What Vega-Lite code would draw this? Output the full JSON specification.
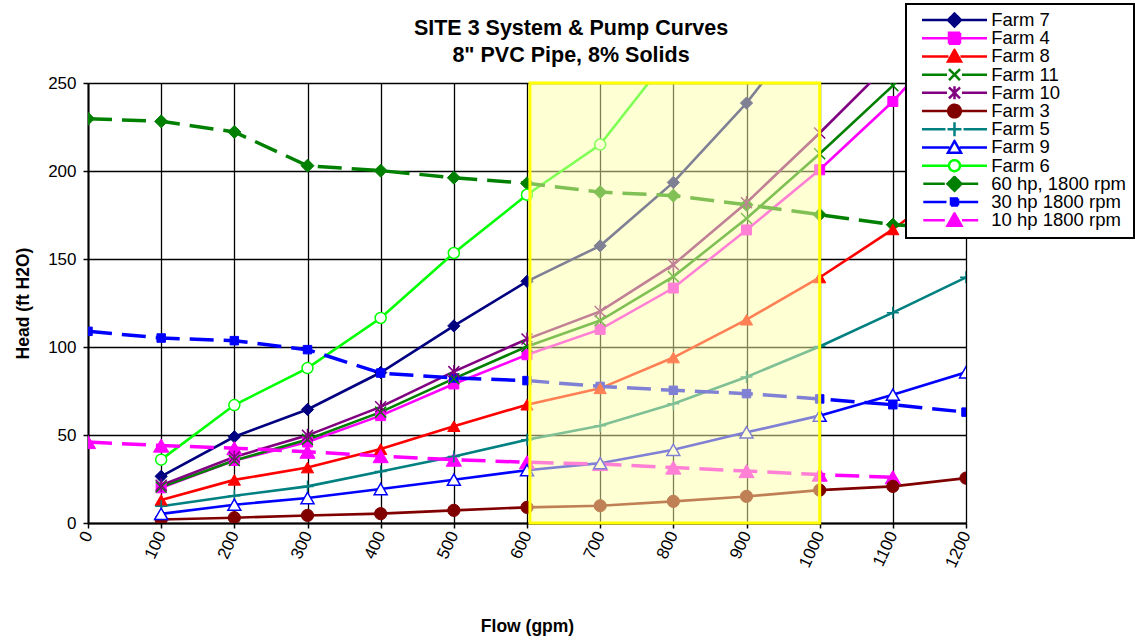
{
  "$schema": "https://vega.github.io/schema/vega-lite/v6.json",
  "width": 878,
  "height": 440,
  "autosize": {"type": "none"},
  "padding": {"left": 88, "top": 83, "right": 169, "bottom": 117},
  "background": "white",
  "title": {
    "text": ["SITE 3 System & Pump Curves", "8\" PVC Pipe, 8% Solids"],
    "anchor": "middle",
    "frame": "group",
    "dx": 44,
    "dy": 63,
    "offset": 0,
    "font": "Liberation Sans",
    "fontSize": 21.5,
    "fontWeight": "bold",
    "color": "#000000",
    "lineHeight": 27
  },
  "config": {
    "view": {"stroke": null},
    "axis": {
      "labelFont": "Liberation Sans",
      "titleFont": "Liberation Sans",
      "labelColor": "#000000",
      "titleColor": "#000000",
      "labelFontSize": 17,
      "titleFontSize": 17.5,
      "titleFontWeight": "bold",
      "domainColor": "#000000",
      "domainWidth": 2,
      "tickColor": "#000000",
      "tickWidth": 1.5,
      "tickSize": 5,
      "gridColor": "#000000",
      "gridOpacity": 1,
      "gridWidth": 1.3,
      "labelFlush": false,
      "labelOverlap": false
    }
  },
  "layer": [
    {
      "data": {
        "values": [
          {"series": "Farm 7", "kind": "System", "flow": 100, "head": 26.5},
          {"series": "Farm 7", "kind": "System", "flow": 200, "head": 49},
          {"series": "Farm 7", "kind": "System", "flow": 300, "head": 64.5},
          {"series": "Farm 7", "kind": "System", "flow": 400, "head": 85.5},
          {"series": "Farm 7", "kind": "System", "flow": 500, "head": 112},
          {"series": "Farm 7", "kind": "System", "flow": 600, "head": 137.3},
          {"series": "Farm 7", "kind": "System", "flow": 700, "head": 157.5},
          {"series": "Farm 7", "kind": "System", "flow": 800, "head": 193.5},
          {"series": "Farm 7", "kind": "System", "flow": 900, "head": 238.6},
          {"series": "Farm 7", "kind": "System", "flow": 1000, "head": 292},
          {"series": "Farm 4", "kind": "System", "flow": 100, "head": 20},
          {"series": "Farm 4", "kind": "System", "flow": 200, "head": 35.5},
          {"series": "Farm 4", "kind": "System", "flow": 300, "head": 46},
          {"series": "Farm 4", "kind": "System", "flow": 400, "head": 61},
          {"series": "Farm 4", "kind": "System", "flow": 500, "head": 79},
          {"series": "Farm 4", "kind": "System", "flow": 600, "head": 95.6},
          {"series": "Farm 4", "kind": "System", "flow": 700, "head": 110},
          {"series": "Farm 4", "kind": "System", "flow": 800, "head": 133.5},
          {"series": "Farm 4", "kind": "System", "flow": 900, "head": 166.5},
          {"series": "Farm 4", "kind": "System", "flow": 1000, "head": 200.7},
          {"series": "Farm 4", "kind": "System", "flow": 1100, "head": 239.5},
          {"series": "Farm 4", "kind": "System", "flow": 1200, "head": 285},
          {"series": "Farm 8", "kind": "System", "flow": 100, "head": 13},
          {"series": "Farm 8", "kind": "System", "flow": 200, "head": 24.5},
          {"series": "Farm 8", "kind": "System", "flow": 300, "head": 31.5},
          {"series": "Farm 8", "kind": "System", "flow": 400, "head": 42},
          {"series": "Farm 8", "kind": "System", "flow": 500, "head": 55},
          {"series": "Farm 8", "kind": "System", "flow": 600, "head": 67.2},
          {"series": "Farm 8", "kind": "System", "flow": 700, "head": 76.5},
          {"series": "Farm 8", "kind": "System", "flow": 800, "head": 94},
          {"series": "Farm 8", "kind": "System", "flow": 900, "head": 115.5},
          {"series": "Farm 8", "kind": "System", "flow": 1000, "head": 139.5},
          {"series": "Farm 8", "kind": "System", "flow": 1100, "head": 166.8},
          {"series": "Farm 8", "kind": "System", "flow": 1200, "head": 198},
          {"series": "Farm 11", "kind": "System", "flow": 100, "head": 20.5},
          {"series": "Farm 11", "kind": "System", "flow": 200, "head": 35.5},
          {"series": "Farm 11", "kind": "System", "flow": 300, "head": 47.5},
          {"series": "Farm 11", "kind": "System", "flow": 400, "head": 63},
          {"series": "Farm 11", "kind": "System", "flow": 500, "head": 82},
          {"series": "Farm 11", "kind": "System", "flow": 600, "head": 100.3},
          {"series": "Farm 11", "kind": "System", "flow": 700, "head": 115},
          {"series": "Farm 11", "kind": "System", "flow": 800, "head": 140},
          {"series": "Farm 11", "kind": "System", "flow": 900, "head": 173},
          {"series": "Farm 11", "kind": "System", "flow": 1000, "head": 209.8},
          {"series": "Farm 11", "kind": "System", "flow": 1100, "head": 248.5},
          {"series": "Farm 11", "kind": "System", "flow": 1200, "head": 296},
          {"series": "Farm 10", "kind": "System", "flow": 100, "head": 21.5},
          {"series": "Farm 10", "kind": "System", "flow": 200, "head": 37.5},
          {"series": "Farm 10", "kind": "System", "flow": 300, "head": 49.8},
          {"series": "Farm 10", "kind": "System", "flow": 400, "head": 66},
          {"series": "Farm 10", "kind": "System", "flow": 500, "head": 86},
          {"series": "Farm 10", "kind": "System", "flow": 600, "head": 104.5},
          {"series": "Farm 10", "kind": "System", "flow": 700, "head": 120.2},
          {"series": "Farm 10", "kind": "System", "flow": 800, "head": 146.8},
          {"series": "Farm 10", "kind": "System", "flow": 900, "head": 182},
          {"series": "Farm 10", "kind": "System", "flow": 1000, "head": 221.6},
          {"series": "Farm 10", "kind": "System", "flow": 1100, "head": 263},
          {"series": "Farm 3", "kind": "System", "flow": 100, "head": 2},
          {"series": "Farm 3", "kind": "System", "flow": 200, "head": 3},
          {"series": "Farm 3", "kind": "System", "flow": 300, "head": 4.3},
          {"series": "Farm 3", "kind": "System", "flow": 400, "head": 5.3},
          {"series": "Farm 3", "kind": "System", "flow": 500, "head": 7.2},
          {"series": "Farm 3", "kind": "System", "flow": 600, "head": 8.9},
          {"series": "Farm 3", "kind": "System", "flow": 700, "head": 9.8},
          {"series": "Farm 3", "kind": "System", "flow": 800, "head": 12.3},
          {"series": "Farm 3", "kind": "System", "flow": 900, "head": 15.1},
          {"series": "Farm 3", "kind": "System", "flow": 1000, "head": 18.7},
          {"series": "Farm 3", "kind": "System", "flow": 1100, "head": 20.8},
          {"series": "Farm 3", "kind": "System", "flow": 1200, "head": 25.5},
          {"series": "Farm 5", "kind": "System", "flow": 100, "head": 9.5},
          {"series": "Farm 5", "kind": "System", "flow": 200, "head": 15.5},
          {"series": "Farm 5", "kind": "System", "flow": 300, "head": 20.8},
          {"series": "Farm 5", "kind": "System", "flow": 400, "head": 29.3},
          {"series": "Farm 5", "kind": "System", "flow": 500, "head": 37.8},
          {"series": "Farm 5", "kind": "System", "flow": 600, "head": 47.3},
          {"series": "Farm 5", "kind": "System", "flow": 700, "head": 55.3},
          {"series": "Farm 5", "kind": "System", "flow": 800, "head": 67.8},
          {"series": "Farm 5", "kind": "System", "flow": 900, "head": 83},
          {"series": "Farm 5", "kind": "System", "flow": 1000, "head": 100.3},
          {"series": "Farm 5", "kind": "System", "flow": 1100, "head": 119.5},
          {"series": "Farm 5", "kind": "System", "flow": 1200, "head": 139.6},
          {"series": "Farm 9", "kind": "System", "flow": 100, "head": 5.2},
          {"series": "Farm 9", "kind": "System", "flow": 200, "head": 10.4},
          {"series": "Farm 9", "kind": "System", "flow": 300, "head": 14.2},
          {"series": "Farm 9", "kind": "System", "flow": 400, "head": 19.3},
          {"series": "Farm 9", "kind": "System", "flow": 500, "head": 24.6},
          {"series": "Farm 9", "kind": "System", "flow": 600, "head": 30},
          {"series": "Farm 9", "kind": "System", "flow": 700, "head": 34},
          {"series": "Farm 9", "kind": "System", "flow": 800, "head": 41.6},
          {"series": "Farm 9", "kind": "System", "flow": 900, "head": 51.5},
          {"series": "Farm 9", "kind": "System", "flow": 1000, "head": 61},
          {"series": "Farm 9", "kind": "System", "flow": 1100, "head": 72.9},
          {"series": "Farm 9", "kind": "System", "flow": 1200, "head": 85.6},
          {"series": "Farm 6", "kind": "System", "flow": 100, "head": 36},
          {"series": "Farm 6", "kind": "System", "flow": 200, "head": 67},
          {"series": "Farm 6", "kind": "System", "flow": 300, "head": 88},
          {"series": "Farm 6", "kind": "System", "flow": 400, "head": 116.5},
          {"series": "Farm 6", "kind": "System", "flow": 500, "head": 153.4},
          {"series": "Farm 6", "kind": "System", "flow": 600, "head": 186.5},
          {"series": "Farm 6", "kind": "System", "flow": 700, "head": 215},
          {"series": "Farm 6", "kind": "System", "flow": 800, "head": 268},
          {"series": "60 hp, 1800 rpm", "kind": "Pump", "flow": 0, "head": 229.7},
          {"series": "60 hp, 1800 rpm", "kind": "Pump", "flow": 100, "head": 228.2},
          {"series": "60 hp, 1800 rpm", "kind": "Pump", "flow": 200, "head": 222.2},
          {"series": "60 hp, 1800 rpm", "kind": "Pump", "flow": 300, "head": 203},
          {"series": "60 hp, 1800 rpm", "kind": "Pump", "flow": 400, "head": 200.2},
          {"series": "60 hp, 1800 rpm", "kind": "Pump", "flow": 500, "head": 196.2},
          {"series": "60 hp, 1800 rpm", "kind": "Pump", "flow": 600, "head": 193},
          {"series": "60 hp, 1800 rpm", "kind": "Pump", "flow": 700, "head": 188},
          {"series": "60 hp, 1800 rpm", "kind": "Pump", "flow": 800, "head": 186},
          {"series": "60 hp, 1800 rpm", "kind": "Pump", "flow": 900, "head": 180.8},
          {"series": "60 hp, 1800 rpm", "kind": "Pump", "flow": 1000, "head": 175.2},
          {"series": "60 hp, 1800 rpm", "kind": "Pump", "flow": 1100, "head": 169.5},
          {"series": "60 hp, 1800 rpm", "kind": "Pump", "flow": 1200, "head": 167.3},
          {"series": "30 hp 1800 rpm", "kind": "Pump", "flow": 0, "head": 108.9},
          {"series": "30 hp 1800 rpm", "kind": "Pump", "flow": 100, "head": 105.1},
          {"series": "30 hp 1800 rpm", "kind": "Pump", "flow": 200, "head": 103.6},
          {"series": "30 hp 1800 rpm", "kind": "Pump", "flow": 300, "head": 98.5},
          {"series": "30 hp 1800 rpm", "kind": "Pump", "flow": 400, "head": 85.2},
          {"series": "30 hp 1800 rpm", "kind": "Pump", "flow": 500, "head": 82.4},
          {"series": "30 hp 1800 rpm", "kind": "Pump", "flow": 600, "head": 80.9},
          {"series": "30 hp 1800 rpm", "kind": "Pump", "flow": 700, "head": 77.6},
          {"series": "30 hp 1800 rpm", "kind": "Pump", "flow": 800, "head": 75.4},
          {"series": "30 hp 1800 rpm", "kind": "Pump", "flow": 900, "head": 73.5},
          {"series": "30 hp 1800 rpm", "kind": "Pump", "flow": 1000, "head": 70.5},
          {"series": "30 hp 1800 rpm", "kind": "Pump", "flow": 1100, "head": 67.2},
          {"series": "30 hp 1800 rpm", "kind": "Pump", "flow": 1200, "head": 63},
          {"series": "10 hp 1800 rpm", "kind": "Pump", "flow": 0, "head": 46},
          {"series": "10 hp 1800 rpm", "kind": "Pump", "flow": 100, "head": 44},
          {"series": "10 hp 1800 rpm", "kind": "Pump", "flow": 200, "head": 42.5},
          {"series": "10 hp 1800 rpm", "kind": "Pump", "flow": 300, "head": 40.5},
          {"series": "10 hp 1800 rpm", "kind": "Pump", "flow": 400, "head": 38},
          {"series": "10 hp 1800 rpm", "kind": "Pump", "flow": 500, "head": 36},
          {"series": "10 hp 1800 rpm", "kind": "Pump", "flow": 600, "head": 34.5},
          {"series": "10 hp 1800 rpm", "kind": "Pump", "flow": 700, "head": 33.5},
          {"series": "10 hp 1800 rpm", "kind": "Pump", "flow": 800, "head": 31.5},
          {"series": "10 hp 1800 rpm", "kind": "Pump", "flow": 900, "head": 29.5},
          {"series": "10 hp 1800 rpm", "kind": "Pump", "flow": 1000, "head": 27.5},
          {"series": "10 hp 1800 rpm", "kind": "Pump", "flow": 1100, "head": 26}
        ]
      },
      "encoding": {
        "x": {
          "field": "flow",
          "type": "quantitative",
          "scale": {"domain": [0, 1200], "nice": false, "zero": true},
          "axis": {
            "values": [0, 100, 200, 300, 400, 500, 600, 700, 800, 900, 1000, 1100, 1200],
            "format": "d",
            "title": "Flow (gpm)",
            "titlePadding": 48,
            "labelAngle": -65,
            "labelAlign": "right",
            "labelBaseline": "middle",
            "labelPadding": 4,
            "grid": true
          }
        },
        "y": {
          "field": "head",
          "type": "quantitative",
          "scale": {"domain": [0, 250], "nice": false},
          "axis": {
            "values": [0, 50, 100, 150, 200, 250],
            "title": "Head (ft H2O)",
            "titlePadding": 15,
            "labelPadding": 7,
            "grid": true
          }
        },
        "color": {
          "field": "series",
          "type": "nominal",
          "scale": {
            "domain": ["Farm 7", "Farm 4", "Farm 8", "Farm 11", "Farm 10", "Farm 3", "Farm 5", "Farm 9", "Farm 6", "60 hp, 1800 rpm", "30 hp 1800 rpm", "10 hp 1800 rpm"],
            "range": ["#000080", "#FF00FF", "#FF0000", "#008000", "#800080", "#800000", "#008080", "#0000FF", "#00FF00", "#008000", "#0000FF", "#FF00FF"]
          },
          "legend": {
            "orient": "none",
            "legendX": 818,
            "legendY": -79,
            "title": null,
            "padding": 8,
            "strokeColor": "#000000",
            "fillColor": "#ffffff",
            "labelFont": "Liberation Sans",
            "labelFontSize": 18.5,
            "labelColor": "#000000",
            "labelLimit": 300,
            "symbolSize": 4,
            "symbolStrokeWidth": 2.5,
            "symbolOffset": 31.25,
            "labelOffset": 27.5,
            "clipHeight": 16.1,
            "rowPadding": -0.8,
            "encode": {
              "legend": {"update": {"strokeWidth": {"value": 2}}},
              "symbols": {
                "update": {
                  "shape": {"signal": "{'Farm 7':'M-32.5,0H-6.5M6.5,0H32.5M-6.5,0L0,-6.5L6.5,0L0,6.5Z','Farm 4':'M-32.5,0H-5.5M5.5,0H32.5M-5.5,-5.5H5.5V5.5H-5.5Z','Farm 8':'M-32.5,0H-6M6,0H32.5M0,-6.5L6.5,5L-6.5,5Z','Farm 11':'M-32.5,0H-7.5M7.5,0H32.5M-5.5,-5.5L5.5,5.5M5.5,-5.5L-5.5,5.5','Farm 10':'M-32.5,0H-7.5M7.5,0H32.5M-5.5,-5.5L5.5,5.5M5.5,-5.5L-5.5,5.5M0,-6.5V6.5','Farm 3':'M-32.5,0H-6.3M6.3,0H32.5M-6.3,0A6.3,6.3,0,1,1,6.3,0A6.3,6.3,0,1,1,-6.3,0Z','Farm 5':'M-32.5,0H-9M9,0H32.5M-7,0H7M0,-7V7','Farm 9':'M-32.5,0H-5M5,0H32.5M0,-6.5L6.5,5.2L-6.5,5.2Z','Farm 6':'M-32.5,0H-5.5M5.5,0H32.5M-5.5,0A5.5,5.5,0,1,1,5.5,0A5.5,5.5,0,1,1,-5.5,0Z','60 hp, 1800 rpm':'M-31.2,0H-9.7M7.5,0H23.7M-7,0L0,-7L7,0L0,7Z','30 hp 1800 rpm':'M-31.2,0H-8M4,0H23.7M-3.5,-3.5H3.5V3.5H-3.5Z','10 hp 1800 rpm':'M-31.2,0H-9.7M7.5,0H23.7M0,-7L7,5.5L-7,5.5Z'}[datum.value]"},
                  "fill": {"signal": "{'Farm 7':'#000080','Farm 4':'#FF00FF','Farm 8':'#FF0000','Farm 11':'transparent','Farm 10':'transparent','Farm 3':'#800000','Farm 5':'transparent','Farm 9':'#ffffff','Farm 6':'#ffffff','60 hp, 1800 rpm':'#008000','30 hp 1800 rpm':'#0000FF','10 hp 1800 rpm':'#FF00FF'}[datum.value]"},
                  "stroke": {"signal": "scale('color', datum.value)"},
                  "strokeWidth": {"value": 2.5},
                  "strokeDash": {"value": [1, 0]},
                  "opacity": {"value": 1}
                }
              }
            }
          }
        }
      },
      "layer": [
        {
          "transform": [{"filter": "datum.kind === 'System'"}],
          "mark": {"type": "line", "strokeWidth": 2.6, "clip": true}
        },
        {
          "transform": [{"filter": "datum.kind === 'Pump'"}],
          "mark": {"type": "line", "strokeWidth": 3.5, "strokeDash": [24, 10], "clip": true}
        },
        {
          "transform": [{"filter": {"field": "series", "oneOf": ["Farm 7"]}}],
          "mark": {"type": "point", "shape": "diamond", "filled": false, "fill": "#000080", "size": 150, "opacity": 1, "strokeWidth": 1, "clip": true}
        },
        {
          "transform": [{"filter": {"field": "series", "oneOf": ["60 hp, 1800 rpm"]}}],
          "mark": {"type": "point", "shape": "diamond", "filled": false, "fill": "#008000", "size": 169, "opacity": 1, "strokeWidth": 1, "clip": true}
        },
        {
          "transform": [{"filter": {"field": "series", "oneOf": ["Farm 4"]}}],
          "mark": {"type": "point", "shape": "square", "filled": false, "fill": "#FF00FF", "size": 100, "opacity": 1, "strokeWidth": 1, "clip": true}
        },
        {
          "transform": [{"filter": {"field": "series", "oneOf": ["30 hp 1800 rpm"]}}],
          "mark": {"type": "point", "shape": "square", "filled": false, "fill": "#0000FF", "size": 72, "opacity": 1, "strokeWidth": 1, "clip": true}
        },
        {
          "transform": [{"filter": {"field": "series", "oneOf": ["Farm 8"]}}],
          "mark": {"type": "point", "shape": "triangle-up", "filled": false, "fill": "#FF0000", "size": 150, "opacity": 1, "strokeWidth": 1, "clip": true}
        },
        {
          "transform": [{"filter": {"field": "series", "oneOf": ["10 hp 1800 rpm"]}}],
          "mark": {"type": "point", "shape": "triangle-up", "filled": false, "fill": "#FF00FF", "size": 230, "opacity": 1, "strokeWidth": 1, "clip": true}
        },
        {
          "transform": [{"filter": {"field": "series", "oneOf": ["Farm 3"]}}],
          "mark": {"type": "point", "shape": "circle", "filled": false, "fill": "#800000", "size": 150, "opacity": 1, "strokeWidth": 1, "clip": true}
        },
        {
          "transform": [{"filter": {"field": "series", "oneOf": ["Farm 11"]}}],
          "mark": {"type": "point", "shape": "M-1,-1L1,1M1,-1L-1,1", "filled": false, "size": 121, "opacity": 1, "strokeWidth": 1.5, "clip": true}
        },
        {
          "transform": [{"filter": {"field": "series", "oneOf": ["Farm 10"]}}],
          "mark": {"type": "point", "shape": "M-1,-1L1,1M1,-1L-1,1M0,-1.2V1.2", "filled": false, "size": 121, "opacity": 1, "strokeWidth": 1.5, "clip": true}
        },
        {
          "transform": [{"filter": {"field": "series", "oneOf": ["Farm 5"]}}],
          "mark": {"type": "point", "shape": "M-1,0H1M0,-1V1", "filled": false, "size": 144, "opacity": 1, "strokeWidth": 1.5, "clip": true}
        },
        {
          "transform": [{"filter": {"field": "series", "oneOf": ["Farm 9"]}}],
          "mark": {"type": "point", "shape": "triangle-up", "filled": false, "fill": "#ffffff", "size": 169, "opacity": 1, "strokeWidth": 1.5, "clip": true}
        },
        {
          "transform": [{"filter": {"field": "series", "oneOf": ["Farm 6"]}}],
          "mark": {"type": "point", "shape": "circle", "filled": false, "fill": "#ffffff", "size": 121, "opacity": 1, "strokeWidth": 1.5, "clip": true}
        }
      ]
    },
    {
      "data": {"values": [{}]},
      "mark": {"type": "rect", "fill": "#FFFFAA", "fillOpacity": 0.5, "stroke": "#FFFF00", "strokeWidth": 3},
      "encoding": {
        "x": {"datum": 604, "type": "quantitative"},
        "x2": {"datum": 1000},
        "y": {"datum": 0, "type": "quantitative"},
        "y2": {"datum": 250}
      }
    }
  ]
}
